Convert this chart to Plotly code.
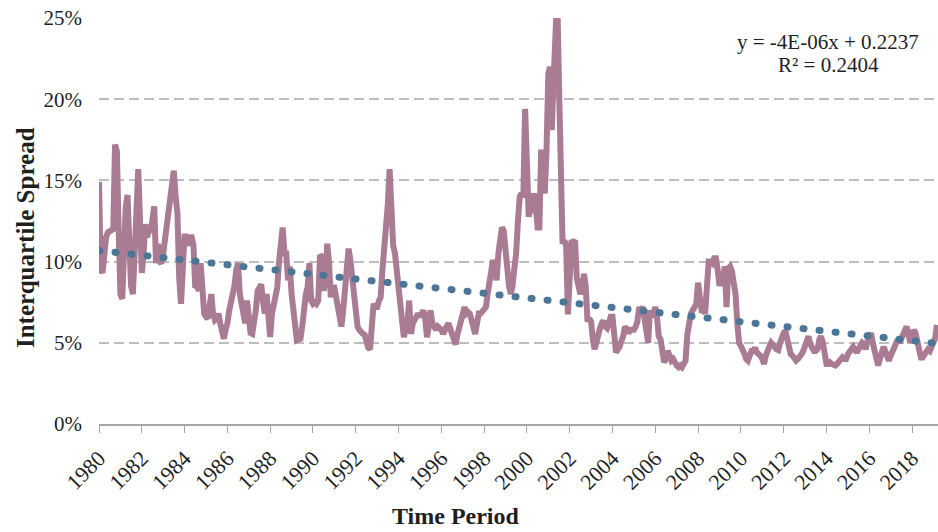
import pandas as pd
import plotly.graph_objects as go

# Monthly interquartile spread (%), January 1980 onward
spread_pct = {
    1980: [14.9, 9.5, 9.3, 11.0, 11.5, 11.8, 11.9, 12.0, 12.0, 17.2, 16.8, 12.0],
    1981: [8.0, 7.7, 12.0, 13.3, 14.1, 11.0, 8.5, 8.0, 10.0, 13.0, 15.7, 11.5],
    1982: [9.3, 10.5, 12.3, 11.5, 12.0, 11.8, 12.5, 13.4, 9.9, 11.1, 10.0, 9.9],
    1983: [10.5, 11.5, 12.1, 12.8, 13.6, 14.8, 15.6, 14.0, 13.0, 9.0, 7.4, 9.5],
    1984: [11.7, 11.3, 11.0, 11.5, 11.5, 11.0, 8.4, 8.5, 8.2, 9.9, 8.4, 6.8],
    1985: [6.6, 6.5, 7.2, 8.0, 6.8, 6.4, 6.5, 6.8, 6.2, 5.6, 5.25, 5.8],
    1986: [6.2, 7.0, 7.4, 7.8, 8.5, 9.5, 9.9, 8.0, 7.2, 6.6, 6.2, 7.6],
    1987: [6.5, 5.6, 5.55, 6.2, 7.0, 8.2, 8.4, 8.6, 7.5, 6.8, 8.0, 6.0],
    1988: [5.35, 6.8, 7.2, 7.8, 8.4, 10.0, 11.5, 12.1, 10.5, 10.5, 8.85, 9.7],
    1989: [8.0, 6.8, 5.6, 5.15, 5.2, 5.25, 6.0, 7.2, 8.0, 8.4, 9.9, 7.6],
    1990: [7.4, 7.5, 7.4, 7.6, 10.4, 10.3, 8.2, 9.0, 11.1, 10.0, 7.8, 8.4],
    1991: [8.4, 7.8, 7.2, 6.6, 6.0, 7.0, 8.6, 9.8, 10.8, 10.1, 9.0, 8.0],
    1992: [7.0, 6.0, 5.8, 5.6, 5.55, 5.5, 4.9, 4.7, 4.6, 6.5, 7.4, 7.2],
    1993: [7.2, 7.6, 7.8, 9.5, 10.6, 12.0, 13.5, 15.7, 12.0, 11.0, 10.5, 9.5],
    1994: [8.8, 7.8, 7.0, 5.35, 5.8, 6.2, 7.6, 5.55, 6.2, 6.4, 6.6, 6.8],
    1995: [6.6, 6.8, 7.0, 6.5, 5.35, 6.0, 7.0, 6.2, 6.0, 5.8, 6.0, 5.9],
    1996: [5.8, 5.55, 5.7, 6.0, 6.2, 5.8, 5.55, 5.0, 4.9, 5.5, 6.0, 6.2],
    1997: [6.8, 7.2, 6.8, 6.9, 6.8, 6.4, 6.0, 5.55, 6.2, 6.8, 6.8, 6.9],
    1998: [7.0, 7.2, 8.0, 8.85, 9.9, 10.1, 9.5, 8.85, 10.5, 11.5, 12.1, 11.9],
    1999: [10.5, 9.5, 8.5, 8.0, 8.5, 9.6, 10.5, 12.5, 14.0, 14.2, 14.0, 19.4],
    2000: [15.0, 12.75, 13.6, 13.0, 14.2, 13.5, 12.1, 12.1, 16.9, 15.0, 14.2, 16.9],
    2001: [21.6, 22.0, 18.1, 21.2, 24.0, 26.5, 21.0, 13.8, 11.1, 11.3, 11.0, 6.75],
    2002: [9.0, 11.3, 11.2, 11.3, 9.0, 8.2, 8.0, 8.4, 9.25, 8.5, 6.3, 6.5],
    2003: [6.3, 5.2, 4.6, 5.0, 5.7, 5.9, 6.2, 6.35, 6.0, 5.9, 6.2, 6.6],
    2004: [6.6, 5.5, 4.4, 4.6, 4.75, 5.1, 5.4, 6.0, 5.7, 5.6, 5.8, 5.8],
    2005: [5.8, 6.0, 6.3, 7.2, 7.0, 7.2, 6.6, 5.5, 5.0, 7.0, 6.6, 6.8],
    2006: [7.2, 6.5, 5.4, 5.2, 4.5, 3.8, 4.0, 4.5, 4.2, 3.9, 4.0, 3.7],
    2007: [3.6, 3.5, 3.6, 3.5, 3.7, 3.9, 5.5, 6.6, 6.8, 7.0, 7.2, 7.4],
    2008: [8.7, 7.8, 7.0, 7.0, 6.8, 8.5, 10.0, 10.0, 9.9, 10.2, 10.2, 9.5],
    2009: [8.5, 9.1, 8.8, 9.7, 7.2, 9.6, 9.7, 9.4, 8.9, 8.0, 6.2, 5.0],
    2010: [4.8, 4.4, 4.35, 4.0, 3.9, 4.2, 4.5, 4.5, 4.7, 4.4, 4.35, 4.2],
    2011: [4.0, 3.7, 4.2, 4.6, 4.75, 5.0, 4.8, 4.75, 4.6, 4.55, 5.0, 5.4],
    2012: [5.6, 5.7, 5.2, 4.75, 4.3, 4.2, 4.0, 3.9, 4.0, 4.1, 4.3, 4.5],
    2013: [4.75, 5.2, 5.4, 4.9, 4.6, 4.5, 4.5, 4.6, 5.2, 5.4, 5.0, 4.2],
    2014: [3.7, 3.7, 3.8, 3.7, 3.6, 3.6, 3.7, 3.8, 4.0, 4.1, 4.0, 4.0],
    2015: [4.3, 4.5, 4.6, 4.75, 4.6, 4.4, 4.6, 4.9, 5.0, 4.9, 4.6, 5.1],
    2016: [5.4, 5.6, 5.0, 4.4, 3.9, 3.6, 4.0, 4.5, 4.75, 4.5, 4.1, 3.9],
    2017: [4.2, 4.5, 4.6, 4.9, 5.2, 5.0, 5.3, 5.6, 5.8, 6.0, 5.5, 5.0],
    2018: [5.4, 5.8, 5.6, 5.0, 4.4, 4.1, 4.1, 4.3, 4.5, 4.6, 4.5, 4.7],
    2019: [5.0, 5.3, 6.1],
}

# Linear trend as reported: y = slope * x + intercept, x = spreadsheet date serial
trend_slope = -4e-06
trend_intercept = 0.2237
trend_label = "y = -4E-06x + 0.2237"
r2_label = "R² = 0.2404"

y_ticks = [0, 0.05, 0.10, 0.15, 0.20, 0.25]

dates, values = [], []
for year, months in spread_pct.items():
    for m, v in enumerate(months, start=1):
        dates.append(pd.Timestamp(year=year, month=m, day=1))
        values.append(v / 100.0)

excel_epoch = pd.Timestamp("1899-12-30")
trend_dates = [dates[0], dates[-1]]
trend_vals = [trend_slope * (d - excel_epoch).days + trend_intercept for d in trend_dates]

serif = "Liberation Serif, Times New Roman, serif"
text_col = "#1F1F1F"

fig = go.Figure()
fig.add_trace(go.Scatter(
    x=dates, y=values, mode="lines",
    line=dict(color="#A97C93", width=6),
    hoverinfo="skip", showlegend=False,
))
fig.add_trace(go.Scatter(
    x=trend_dates, y=trend_vals, mode="lines",
    line=dict(color="#4C7698", width=7, dash="1px,15.1px"),
    hoverinfo="skip", showlegend=False,
))

fig.update_layout(
    width=938, height=532,
    margin=dict(l=99, r=0, t=18, b=108),
    paper_bgcolor="white", plot_bgcolor="white",
    font=dict(family=serif, size=20, color=text_col),
    xaxis=dict(
        type="date",
        range=["1980-01-01", "2019-03-20"],
        tick0="1980-01-01", dtick="M24", tickformat="%Y",
        tickangle=-45,
        ticks="outside", ticklen=7, tickwidth=1.3, tickcolor="#A6A6A6",
        showline=True, linecolor="#A6A6A6", linewidth=1.5,
        showgrid=False, zeroline=False,
        ticklabelstandoff=4,
        tickfont=dict(family=serif, size=22, color=text_col),
    ),
    yaxis=dict(
        range=[0, 0.25],
        tickvals=y_ticks, tickformat=".0%",
        showline=False, zeroline=False,
        showgrid=True, gridcolor="#BDBDBD", gridwidth=1.5, griddash="10px,5px",
        ticks="", ticklabelstandoff=16,
        tickfont=dict(family=serif, size=21, color=text_col),
    ),
    annotations=[
        dict(text=trend_label, xref="paper", yref="paper", x=0.869, y=0.941,
             showarrow=False, xanchor="center", yanchor="middle",
             font=dict(family=serif, size=21, color=text_col)),
        dict(text=r2_label, xref="paper", yref="paper", x=0.869, y=0.884,
             showarrow=False, xanchor="center", yanchor="middle",
             font=dict(family=serif, size=21, color=text_col)),
        dict(text="<b>Interquartile Spread</b>", xref="paper", yref="paper",
             x=-0.0882, y=0.458, textangle=-90, showarrow=False,
             xanchor="center", yanchor="middle",
             font=dict(family=serif, size=25, color=text_col)),
        dict(text="<b>Time Period</b>", xref="paper", yref="paper",
             x=0.4255, y=-0.226, showarrow=False,
             xanchor="center", yanchor="middle",
             font=dict(family=serif, size=24, color=text_col)),
    ],
)

# Round the dash caps of the trend line so it renders as a dotted line
round_caps = """
function roundTrendCaps() {
  var traces = document.querySelectorAll('.scatterlayer .trace');
  if (traces.length > 1) {
    traces[1].querySelectorAll('path.js-line').forEach(function(p) {
      p.style.strokeLinecap = 'round';
    });
  }
}
roundTrendCaps();
setTimeout(roundTrendCaps, 50);
var gd = document.getElementById('{plot_id}');
if (gd && gd.on) { gd.on('plotly_afterplot', roundTrendCaps); }
"""

fig.write_html("out.html", post_script=round_caps)
